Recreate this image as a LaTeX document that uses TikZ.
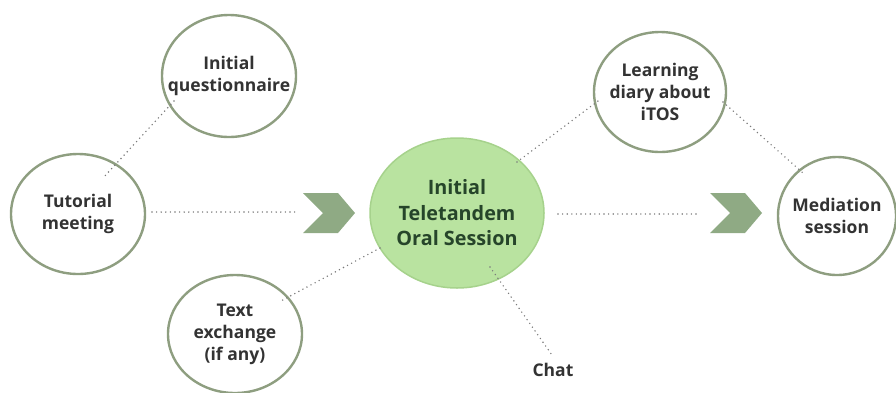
\documentclass[tikz,border=0pt]{standalone}
\usepackage{fontspec}
\setmainfont{Open Sans}
\usetikzlibrary{shapes.geometric}
\definecolor{ringc}{HTML}{8E9E80}
\definecolor{centerfill}{HTML}{B9E3A0}
\definecolor{centerline}{HTML}{A6D28C}
\definecolor{chevc}{HTML}{8FAA84}
\definecolor{dotc}{HTML}{7A7A7A}
\definecolor{txtc}{HTML}{333333}
\definecolor{ctxt}{HTML}{26452A}
\tikzset{
  ring/.style={ellipse, draw=ringc, line width=2.4pt, fill=white, inner sep=0pt},
  ringtxt/.style={align=center, text=txtc, font=\bfseries\fontsize{17.5}{22}\selectfont, inner sep=0pt},
  hub/.style={ellipse, draw=centerline, line width=1.5pt, fill=centerfill, inner sep=0pt},
  hubtxt/.style={align=center, text=ctxt, font=\bfseries\fontsize{19.8}{25.5}\selectfont, inner sep=0pt},
  dotline/.style={draw=dotc, line width=1.6pt, line cap=round, dash pattern=on 0pt off 4.6pt},
  chev/.style={fill=chevc, draw=none},
  lbl/.style={text=txtc, font=\bfseries\fontsize{17.5}{22}\selectfont, inner sep=0pt}
}
\begin{document}
\begin{tikzpicture}[x=1pt,y=-1pt]
\useasboundingbox (0,0) rectangle (896,392);
\coordinate (q1) at (174,101);
\coordinate (t1) at (103,178);
\coordinate (t2) at (152,212);
\coordinate (c1) at (297,212);
\coordinate (h1) at (380,248);
\coordinate (x1) at (279,302);
\coordinate (h2) at (517,162);
\coordinate (l1) at (598,101);
\coordinate (l2) at (723,102);
\coordinate (m1) at (803,173);
\coordinate (h3) at (558,214);
\coordinate (c2) at (700,214);
\coordinate (h4) at (490,267);
\coordinate (ch1) at (552,355);

\node[ring, minimum width=134pt, minimum height=122pt,
  label={[ringtxt]center:{Initial\\questionnaire}}] (quest) at (229,76) {};
\node[ring, minimum width=134pt, minimum height=120pt,
  label={[ringtxt]center:{Tutorial\\meeting}}] (tut) at (78,214) {};
\node[ring, minimum width=134pt, minimum height=118pt,
  label={[ringtxt]center:{Text\\exchange\\(if any)}}] (text) at (235,334) {};
\node[ring, minimum width=132pt, minimum height=120pt,
  label={[ringtxt]center:{Learning\\diary about\\iTOS}}] (diary) at (660,92) {};
\node[ring, minimum width=118pt, minimum height=118pt,
  label={[ringtxt]center:{Mediation\\session}}] (med) at (837,216) {};
\node[hub, minimum width=174pt, minimum height=150pt,
  label={[hubtxt]center:{Initial\\Teletandem\\Oral Session}}] (hub) at (457,213) {};
\node[lbl] (chat) at (553,370) {Chat};

\draw[dotline] (q1) -- (t1);
\draw[dotline] (t2) -- (c1);
\draw[dotline] (h1) -- (x1);
\draw[dotline] (h2) -- (l1);
\draw[dotline] (l2) -- (m1);
\draw[dotline] (h3) -- (c2);
\draw[dotline] (h4) -- (ch1);

\fill[chev] (303,193) -- (338,193) -- (355,213) -- (338,233) -- (303,233) -- (323,213) -- cycle;
\fill[chev] (710,193) -- (745,193) -- (762,213) -- (745,233) -- (710,233) -- (730,213) -- cycle;
\end{tikzpicture}
\end{document}
